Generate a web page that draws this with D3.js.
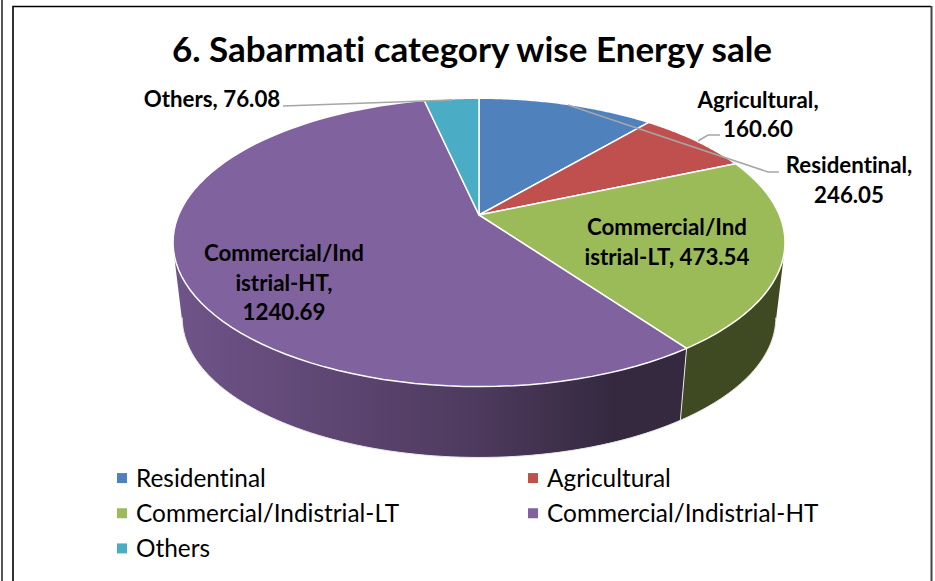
<!DOCTYPE html>
<html>
<head>
<meta charset="utf-8">
<script src="https://cdn.jsdelivr.net/npm/d3@7"></script>
<style>
  html, body { margin: 0; background: #fff; }
  svg { display: block; font-family: Lato, "Open Sans", sans-serif; font-variant-ligatures: none; }
</style>
</head>
<body>
<svg width="935" height="581"></svg>
<script>
// Data
const categories = ["Residentinal", "Agricultural", "Commercial/Indistrial-LT", "Commercial/Indistrial-HT", "Others"];
const values = [246.05, 160.6, 473.54, 1240.69, 76.08];
const valueLabels = ["246.05", "160.60", "473.54", "1240.69", "76.08"];
const colors = ["#4f81bd", "#c0504d", "#9bbb59", "#7f629e", "#4bacc6"];
const sideColors = ["#2a4465", "#662a28", "#3f4a22", "#4e3a5e", "#285c6a"];
const titleText = "6. Sabarmati category wise Energy sale";

// Label text, split the way the chart wraps it
const labelLines = [
  ["Residentinal,", valueLabels[0]],
  ["Agricultural,", valueLabels[1]],
  ["Commercial/Ind", "istrial-LT, " + valueLabels[2]],
  ["Commercial/Ind", "istrial-HT,", valueLabels[3]],
  ["Others, " + valueLabels[4]]
];
const labelX = [849, 758, 667, 284, 212];
const labelY = [173, 107.5, 235, 261, 107];

// Leader lines, [x, y] on the page
const leaders = [
  [[568, 105], [768, 172], [779, 172]],
  [[698, 141], [708, 135], [720, 135]],
  [[283, 106], [452, 100]]
];

const svg = d3.select("svg");
const color = d3.scaleOrdinal().domain(categories).range(colors);
const sideColor = d3.scaleOrdinal().domain(categories).range(sideColors);

// Page frame
const frame = svg.append("g").attr("fill", "none");
frame.append("path").attr("d", "M2,0V581").attr("stroke", "#555").attr("stroke-width", 2);
frame.append("path").attr("d", "M13,581V6.5H931").attr("stroke", "#000").attr("stroke-width", 1.6);
frame.append("path").attr("d", "M931.5,6V581").attr("stroke", "#444").attr("stroke-width", 2);

svg.append("text")
  .attr("x", 472)
  .attr("y", 62)
  .attr("text-anchor", "middle")
  .attr("font-size", 35)
  .attr("font-weight", "bold")
  .text(titleText);

// Perspective view of the pie: a circle tipped back, far edge smaller
const cx = 479;
const tilt = 0.19;
function project(angle, cy, scale) {
  const s = scale / (1 + tilt * Math.cos(angle));
  return [cx + 300.4 * Math.sin(angle) * s, cy - 139 * Math.cos(angle) * s];
}
const topFace = (a) => project(a, 215, 1);
const bottomFace = (a) => project(a, 291, 0.97);

// Part of the circle where the wall faces the viewer
const frontStart = Math.PI - Math.acos(tilt);
const frontEnd = Math.PI + Math.acos(tilt);

function samples(a0, a1) {
  const step = (a1 - a0) / 80;
  return d3.range(81).map((i) => a0 + i * step);
}

const arcs = d3.pie().sort(null).value((d) => d.value)(
  categories.map((name, i) => ({ name, value: values[i] }))
);
const line = d3.line();

// One wall quad, always wound the same way or overlaps cancel out when filled
function wallQuad(a, b) {
  const quad = [topFace(a), topFace(b), bottomFace(b), bottomFace(a)];
  if (d3.polygonArea(quad) < 0) quad.reverse();
  return line(quad) + "Z";
}

// Gradient on the purple wall
const defs = svg.append("defs");
const wall = defs
  .append("linearGradient")
  .attr("id", "wallHT")
  .attr("gradientUnits", "userSpaceOnUse")
  .attr("x1", 175)
  .attr("x2", 690)
  .attr("y1", 0)
  .attr("y2", 0);
wall.append("stop").attr("offset", "0").attr("stop-color", "#6f5489");
wall.append("stop").attr("offset", "0.58").attr("stop-color", "#4e3a5e");
wall.append("stop").attr("offset", "0.85").attr("stop-color", "#352940");

// Walls first, the top face hides what is behind
svg
  .append("g")
  .selectAll("path")
  .data(arcs)
  .enter()
  .append("path")
  .attr("d", (d) => {
    return d3
      .pairs(samples(d.startAngle, d.endAngle))
      .map(([a, b]) => wallQuad(a, b))
      .join("");
  })
  .attr("fill", (d) => (d.data.name === categories[3] ? "url(#wallHT)" : sideColor(d.data.name)));

// Seam and lower edge of the wall, front part only
const front = arcs.filter((d) => d.endAngle > frontStart && d.startAngle < frontEnd);
svg
  .append("g")
  .attr("fill", "none")
  .attr("stroke", "#e8e8e8")
  .attr("stroke-width", 1)
  .selectAll("path")
  .data(front)
  .enter()
  .append("path")
  .attr("d", (d) => {
    const a0 = Math.max(d.startAngle, frontStart);
    const a1 = Math.min(d.endAngle, frontEnd);
    const edge = samples(a0, a1).map(bottomFace);
    return line(d.startAngle > frontStart ? [topFace(a0), ...edge] : edge);
  });

svg
  .append("g")
  .selectAll("path")
  .data(arcs)
  .enter()
  .append("path")
  .attr("d", (d) => {
    return line([[cx, 215]].concat(samples(d.startAngle, d.endAngle).map(topFace))) + "Z";
  })
  .attr("fill", (d) => color(d.data.name))
  .attr("stroke", "#fff")
  .attr("stroke-width", 1.5)
  .attr("stroke-linejoin", "round");

// Leaders
svg
  .append("g")
  .selectAll("path")
  .data(leaders)
  .enter()
  .append("path")
  .attr("d", (d) => line(d))
  .attr("fill", "none")
  .attr("stroke", "#a6a6a6")
  .attr("stroke-width", 1.5);

// Data labels
const labels = svg
  .append("g")
  .attr("font-size", 22.3)
  .attr("font-weight", "bold")
  .attr("text-anchor", "middle")
  .selectAll("text")
  .data(labelLines)
  .enter()
  .append("text")
  .attr("y", (d, i) => labelY[i]);
labels
  .selectAll("tspan")
  .data((d, i) => d.map((t) => ({ t, x: labelX[i] })))
  .enter()
  .append("tspan")
  .attr("x", (d) => d.x)
  .attr("dy", (d, i) => (i ? 29.5 : 0))
  .text((d) => d.t);

// Legend
const legendX = d3.scaleOrdinal().domain([0, 1]).range([117, 528]);
const legendY = d3.scaleBand().domain([0, 1, 2]).range([460.5, 566]);
const legend = svg
  .append("g")
  .selectAll("g")
  .data(categories)
  .enter()
  .append("g")
  .attr("transform", (d, i) => `translate(${legendX(i % 2)},${legendY(Math.floor(i / 2)) + legendY.bandwidth() / 2})`);
legend
  .append("rect")
  .attr("y", -5)
  .attr("width", 10)
  .attr("height", 10)
  .attr("fill", (d) => color(d));
legend
  .append("text")
  .attr("x", 19)
  .attr("y", 8.5)
  .attr("font-size", 24.4)
  .text((d) => d);
</script>
</body>
</html>
